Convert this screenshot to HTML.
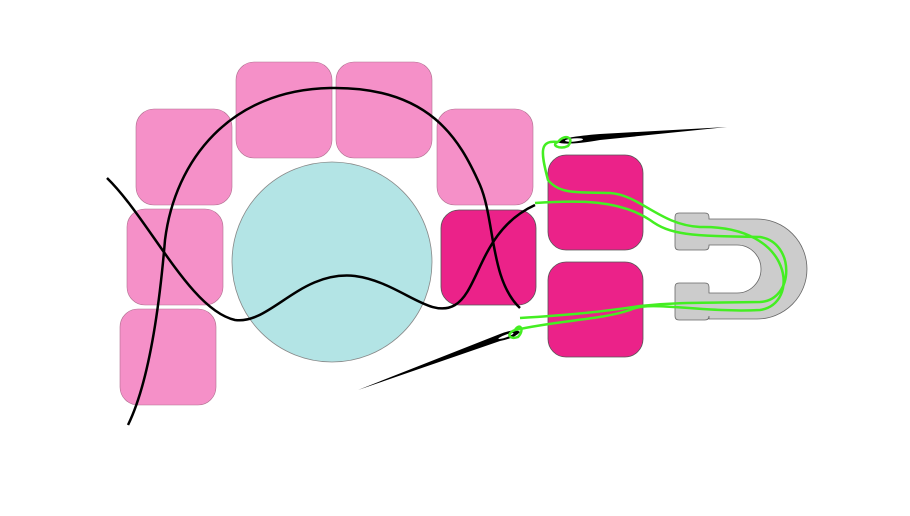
<!DOCTYPE html>
<html><head><meta charset="utf-8"><style>html,body{margin:0;padding:0;background:#fff}svg{display:block}</style></head>
<body>
<svg width="910" height="516" viewBox="0 0 910 516" xmlns="http://www.w3.org/2000/svg">
<g fill="#f590c8" stroke="#b07090" stroke-width="0.6">
<rect x="136" y="109" width="96" height="96" rx="18"/>
<rect x="236" y="62" width="96" height="96" rx="18"/>
<rect x="336" y="62" width="96" height="96" rx="18"/>
<rect x="437" y="109" width="96" height="96" rx="18"/>
<rect x="127" y="209" width="96" height="96" rx="18"/>
<rect x="120" y="309" width="96" height="96" rx="18"/>
</g>
<circle cx="332" cy="262" r="100" fill="#b3e4e5" stroke="#888" stroke-width="0.8"/>
<g fill="#eb2289" stroke="#555" stroke-width="0.8">
<rect x="441" y="210" width="95" height="95" rx="18"/>
<rect x="548" y="155" width="95" height="95" rx="18"/>
<rect x="548" y="262" width="95" height="95" rx="18"/>
</g>
<path fill="#cccccc" stroke="#666" stroke-width="0.8" d="M679 213 H705 Q709 213 709 217 V219 H757 A50 50 0 0 1 757 319 H709 V316 Q709 320 705 320 H679 Q675 320 675 316 V287 Q675 283 679 283 H705 Q709 283 709 287 V293 H737 A24 24 0 0 0 737 245 H709 V246 Q709 250 705 250 H679 Q675 250 675 246 V217 Q675 213 679 213 Z"/>
<!-- needles -->
<path d="M557 142 Q562 137 600 134 L727 127 L600 140 Q565 146 557 142 Z" fill="#000"/>
<ellipse cx="574" cy="140" rx="9" ry="1.6" fill="#fff" transform="rotate(-4 574 140)"/>
<path d="M358 390 L500 334 Q515 328 520 332 Q515 338 500 341 Z" fill="#000"/>
<ellipse cx="506" cy="336" rx="8" ry="1.3" fill="#fff" transform="rotate(-20 506 336)"/>
<!-- black thread -->
<g fill="none" stroke="#000" stroke-width="2.5">
<path d="M107 178 C150 220 190 310 235 320 C270 325 300 270 355 276 C400 282 430 320 455 305 C480 290 480 230 535 205"/>
<path d="M128 425 C150 380 160 300 165 240 C175 160 230 90 330 88 C430 86 460 140 480 185 C495 220 490 280 520 308"/>
</g>
<!-- green threads -->
<g fill="none" stroke="#44ee22" stroke-width="2.5">
<path d="M535 203 C580 200 620 200 650 220 C670 235 690 236 760 237 C795 242 795 300 760 302 C700 303 680 302 640 306 C600 312 570 315 520 318"/>
<path d="M558 142 C540 140 540 150 548 180 C560 195 580 192 610 193 C640 195 660 225 700 227 C795 225 800 305 760 310 C700 313 650 300 630 310 C600 320 560 320 515 330"/>
<path d="M558 142 C565 133 575 138 568 146 C560 150 550 145 558 142" />
<path d="M515 330 C520 322 525 330 518 337 C510 340 505 334 515 330"/>
</g>
</svg>
</body></html>
